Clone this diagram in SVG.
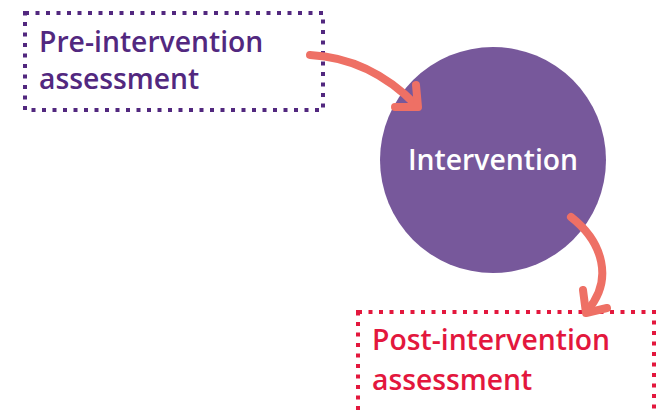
<svg xmlns="http://www.w3.org/2000/svg" width="657" height="412" viewBox="0 0 657 412">
  <style>
    .box { fill: none; stroke-width: 4; stroke-dasharray: 4 6.5; }
    .label { font-family: "Open Sans", "Liberation Sans", sans-serif; font-weight: 600; font-size: 28.3px; }
    .flow { fill: none; stroke: #EE7065; stroke-width: 8; stroke-linecap: round; stroke-linejoin: round; }
  </style>
  <rect width="657" height="412" fill="#ffffff"/>

  <g id="pre">
    <rect class="box" x="25" y="13" width="298" height="97" stroke="#52287F"/>
    <text class="label" fill="#52287F" x="39" y="52">Pre-intervention</text>
    <text class="label" fill="#52287F" x="39" y="89">assessment</text>
  </g>

  <g id="intervention">
    <circle cx="493" cy="160" r="113" fill="#77589B"/>
    <text class="label" fill="#ffffff" x="493" y="170" text-anchor="middle">Intervention</text>
  </g>

  <g id="post">
    <rect class="box" x="358" y="312" width="296" height="110" stroke="#E3173D"/>
    <text class="label" fill="#E3173D" x="372" y="350">Post-intervention</text>
    <text class="label" fill="#E3173D" x="372" y="390">assessment</text>
  </g>

  <g id="connectors">
    <path class="flow" d="M310,55 Q370,58 416,105"/>
    <path class="flow" d="M416,85 L418,107 L395,107"/>
    <path class="flow" d="M571,217 C603,242 614,280 587,311"/>
    <path class="flow" d="M583,290 L586,313 L607,308"/>
  </g>
</svg>
